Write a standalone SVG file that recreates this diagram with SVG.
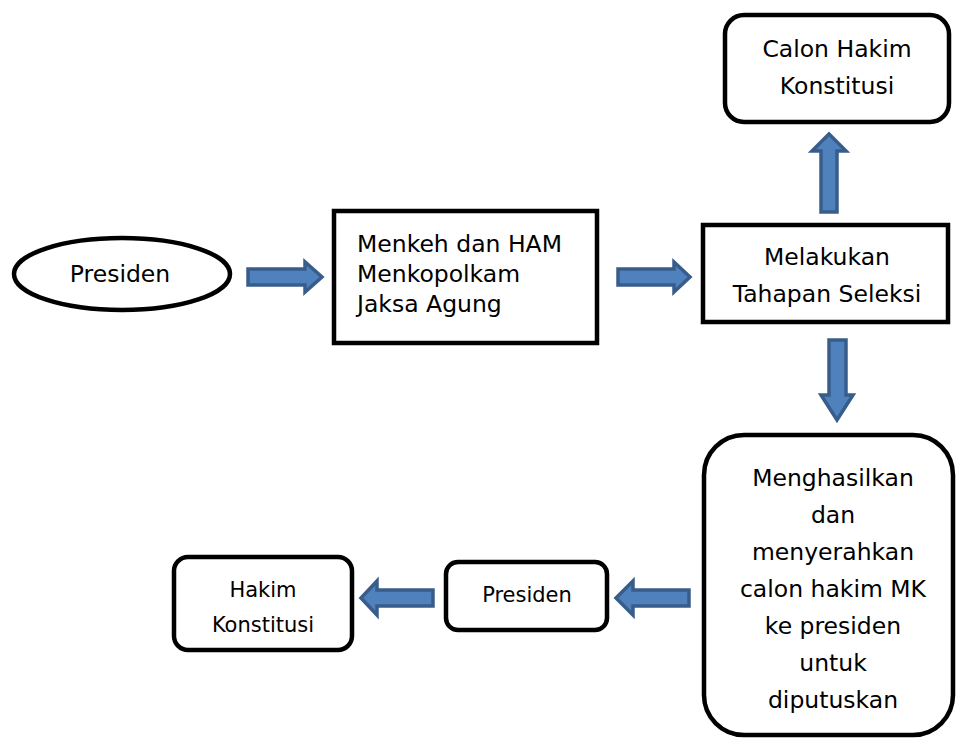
<svg xmlns="http://www.w3.org/2000/svg" width="956" height="740" viewBox="0 0 956 740">
  <style>
    .box { fill: #ffffff; stroke: #000000; stroke-width: 4.5; }
    .lbl { font-family: "DejaVu Sans", Verdana, sans-serif; font-size: 23.5px; fill: #000000; }
    .sm { font-size: 21px; }
    .mid { text-anchor: middle; }
    .arrow { fill: #4f81bd; stroke: #385d8a; stroke-width: 3.5; stroke-linejoin: miter; }
  </style>
  <rect width="956" height="740" fill="#ffffff"/>

  <g id="presiden-start">
    <ellipse class="box" cx="122" cy="274" rx="108" ry="36"/>
    <text class="lbl mid" x="120" y="282">Presiden</text>
  </g>

  <g id="menteri">
    <rect class="box" x="334" y="211" width="263" height="132"/>
    <text class="lbl" x="357" y="252">Menkeh dan HAM</text>
    <text class="lbl" x="357" y="282">Menkopolkam</text>
    <text class="lbl" x="357" y="312">Jaksa Agung</text>
  </g>

  <g id="seleksi">
    <rect class="box" x="703" y="225" width="245" height="97"/>
    <text class="lbl mid" x="827" y="265">Melakukan</text>
    <text class="lbl mid" x="827" y="302">Tahapan Seleksi</text>
  </g>

  <g id="calon-hakim">
    <rect class="box" x="725" y="15" width="224" height="107" rx="19"/>
    <text class="lbl mid" x="837" y="57">Calon Hakim</text>
    <text class="lbl mid" x="837" y="94">Konstitusi</text>
  </g>

  <g id="menghasilkan">
    <rect class="box" x="704" y="435" width="249" height="300" rx="40"/>
    <text class="lbl mid" x="833" y="486">Menghasilkan</text>
    <text class="lbl mid" x="833" y="523">dan</text>
    <text class="lbl mid" x="833" y="560">menyerahkan</text>
    <text class="lbl mid" x="833" y="597">calon hakim MK</text>
    <text class="lbl mid" x="833" y="634">ke presiden</text>
    <text class="lbl mid" x="833" y="671">untuk</text>
    <text class="lbl mid" x="833" y="708">diputuskan</text>
  </g>

  <g id="presiden">
    <rect class="box" x="446" y="562" width="161" height="68" rx="12"/>
    <text class="lbl sm mid" x="527" y="602">Presiden</text>
  </g>

  <g id="hakim-konstitusi">
    <rect class="box" x="174" y="557" width="178" height="93" rx="14"/>
    <text class="lbl sm mid" x="263" y="597">Hakim</text>
    <text class="lbl sm mid" x="263" y="632">Konstitusi</text>
  </g>

  <g id="connectors">
    <!-- right arrows -->
    <polygon class="arrow" points="248,269 305,269 305,262 322,277 305,292 305,285 248,285"/>
    <polygon class="arrow" points="618,269 674,269 674,262 690,277 674,292 674,285 618,285"/>
    <!-- up arrow -->
    <polygon class="arrow" points="821,212 821,151 812,151 829,134 846,151 837,151 837,212"/>
    <!-- down arrow -->
    <polygon class="arrow" points="829,340 846,340 846,395 853,395 837,420 821,395 829,395"/>
    <!-- left arrows -->
    <polygon class="arrow" points="689,590 633,590 633,581 616,598 633,615 633,606 689,606"/>
    <polygon class="arrow" points="433,590 377,590 377,581 361,598 377,615 377,606 433,606"/>
  </g>
</svg>
